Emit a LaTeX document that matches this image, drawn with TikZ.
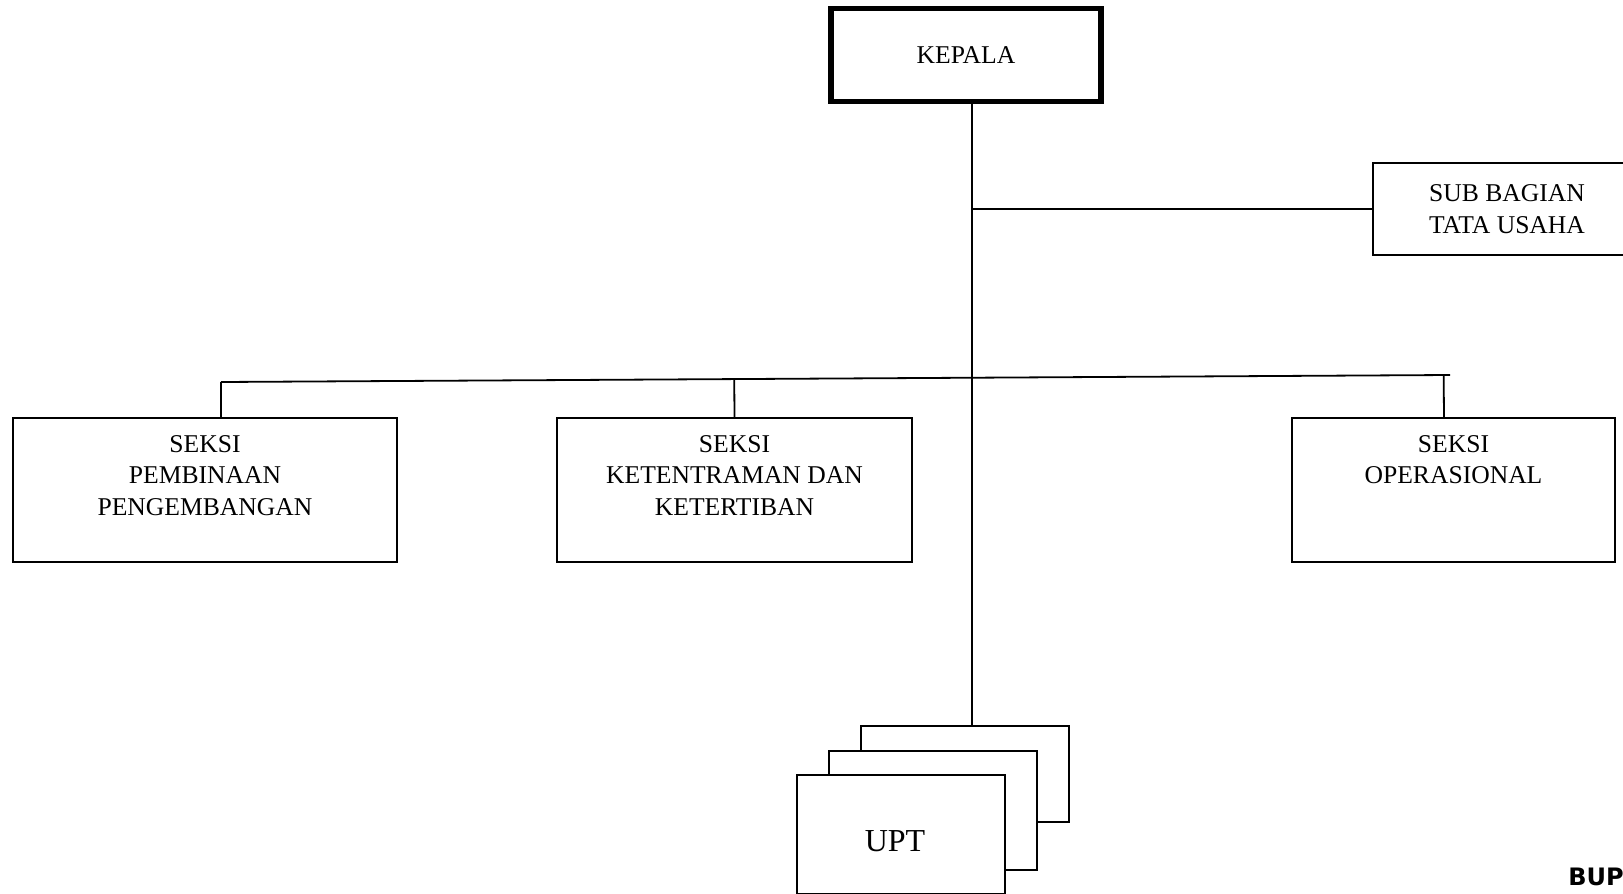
\documentclass[tikz,border=0pt]{standalone}
\usepackage{fontspec}
\setmainfont{Liberation Serif}
\newfontfamily\bupfont{DejaVu Sans}
\usetikzlibrary{calc,positioning}
\tikzset{
  unitbox/.style={draw, line width=0.9pt, fill=white, inner sep=0pt},
  boxtext/.style={font=\fontsize{12.8}{15.75}\selectfont, align=center, inner sep=0pt},
  link/.style={line width=0.9pt},
}

\begin{document}
\begin{tikzpicture}[x=0.5pt, y=-0.5pt]
  \useasboundingbox (0,0) rectangle (1623,894);
  \clip (0,0) rectangle (1623,894);
  % head and staff
  \node[unitbox, boxtext, line width=2.75pt, minimum width=135pt, minimum height=46.5pt] (kepala) at (966,55) {KEPALA};
  \node[unitbox, boxtext, minimum width=134pt, minimum height=46pt] (subbag) at (1507,209) {SUB BAGIAN\\TATA USAHA};
  % sections
  \node[unitbox, minimum width=192pt, minimum height=72pt] (pembinaan) at (205,490) {};
  \node[boxtext, below=9pt of pembinaan.north] (pembinaantext) {SEKSI\\PEMBINAAN\\PENGEMBANGAN};
  \node[unitbox, minimum width=177.5pt, minimum height=72pt] (ketentraman) at (734.5,490) {};
  \node[boxtext, below=9pt of ketentraman.north] (ketentramantext) {SEKSI\\KETENTRAMAN DAN\\KETERTIBAN};
  \node[unitbox, minimum width=161.5pt, minimum height=72pt] (operasional) at (1453.5,490) {};
  \node[boxtext, below=9pt of operasional.north] (operasionaltext) {SEKSI\\OPERASIONAL};
  % stacked units
  \node[unitbox, minimum width=104pt, minimum height=48pt] (uptback) at (965,774) {};
  \node[unitbox, minimum width=104pt, minimum height=59.5pt] (uptmid) at (933,810.5) {};
  \node[unitbox, minimum width=104pt, minimum height=59.5pt] (uptfront) at (901,834.5) {};
  \node[font=\fontsize{16}{19}\selectfont, inner sep=0pt] (upt) at (895,841) {UPT};
  \node[font=\bupfont\bfseries\fontsize{12}{14}\selectfont, anchor=base west, inner sep=0pt] (bupati) at (1568,885) {BUP};
  % lines
  \coordinate (trunk) at (972,0);
  \coordinate (busL) at (221,382);
  \coordinate (busR) at (1450,375);
  \coordinate (dropC) at (1444,0);
  \draw[link] (kepala.south -| trunk) -- (uptback.north -| trunk);
  \draw[link] (trunk |- subbag.west) -- (subbag.west);
  \draw[link] (busL) -- (busR);
  \draw[link] (busL) -- (busL |- pembinaan.north);
  \draw[link] (ketentraman.north) -- ($(busL)!(ketentraman.north)!(busR)$);
  \draw[link] (dropC |- operasional.north) -- ($(busL)!(dropC |- operasional.north)!(busR)$);
\end{tikzpicture}
\end{document}
